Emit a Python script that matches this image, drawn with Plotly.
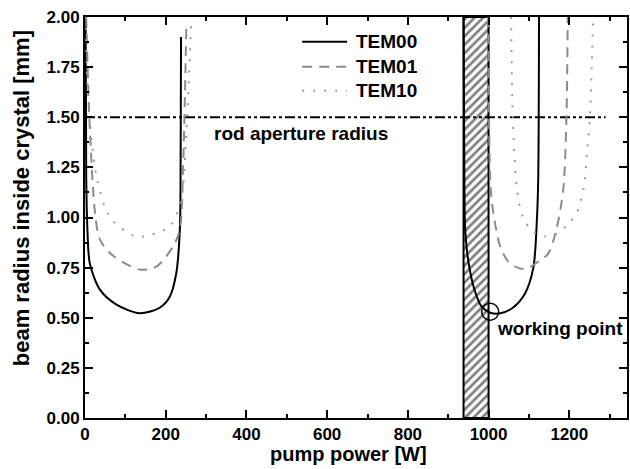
import plotly.graph_objects as go

# ---- data ----
tem00_left_x = [1.5, 3, 6, 12, 37, 78, 136, 185, 210, 226, 235, 237, 238]
tem00_left_y = [2.0, 1.2, 0.94, 0.77, 0.64, 0.565, 0.522, 0.55, 0.605, 0.72, 0.94, 1.3, 1.9]
tem01_left_x = [3, 12, 25, 37, 69, 136, 177, 218, 235, 243, 251]
tem01_left_y = [2.0, 1.44, 1.02, 0.89, 0.81, 0.74, 0.755, 0.855, 0.94, 1.25, 1.95]
tem10_left_x = [1, 8, 29, 62, 119, 144, 210, 238, 251, 263]
tem10_left_y = [2.0, 1.59, 1.2, 1.0, 0.91, 0.905, 0.955, 1.09, 1.42, 1.97]

tem00_right_x = [938, 940, 942, 950, 965, 983, 1004, 1029, 1060, 1090, 1111, 1120, 1123, 1125]
tem00_right_y = [2.0, 1.2, 0.94, 0.78, 0.64, 0.555, 0.525, 0.522, 0.55, 0.62, 0.75, 1.0, 1.19, 2.0]
tem01_right_x = [999, 1001, 1005, 1012, 1029, 1049, 1078, 1099, 1130, 1148, 1168, 1185, 1193, 1196]
tem01_right_y = [2.0, 1.5, 1.15, 1.02, 0.854, 0.78, 0.745, 0.75, 0.79, 0.82, 0.94, 1.14, 1.5, 2.0]
tem10_right_x = [1056, 1060, 1070, 1085, 1110, 1140, 1170, 1198, 1218, 1235, 1245, 1251, 1259]
tem10_right_y = [2.0, 1.5, 1.15, 1.0, 0.93, 0.905, 0.92, 0.97, 1.02, 1.14, 1.35, 1.5, 2.0]

aperture_x = [0, 1290]
aperture_y = [1.5, 1.5]

hatch_x0, hatch_x1 = 938, 1000
hatch_top = 2.0
working_point = (1004, 0.53)

legend_names = ["TEM00", "TEM01", "TEM10"]

FONT = "Liberation Sans, Arial, sans-serif"

fig = go.Figure()

# hatched region
fig.add_trace(go.Bar(
    x=[(hatch_x0 + hatch_x1) / 2], y=[hatch_top], width=[hatch_x1 - hatch_x0], base=0,
    marker=dict(color="white", line=dict(color="black", width=2),
                pattern=dict(shape="/", fgcolor="black", bgcolor="white", size=6, solidity=0.45)),
    showlegend=False, hoverinfo="skip"))

# aperture line
fig.add_trace(go.Scatter(x=aperture_x, y=aperture_y, mode="lines",
                         line=dict(color="black", width=2, dash="10px,3px,3px,3px,3px,3px"),
                         showlegend=False))

styles = {
    "TEM00": dict(color="black", width=2, dash="solid"),
    "TEM01": dict(color="#8c8c8c", width=2, dash="10px,7px"),
    "TEM10": dict(color="#9a9a9a", width=2, dash="2px,9px"),
}
series = [
    ("TEM00", tem00_left_x, tem00_left_y, tem00_right_x, tem00_right_y),
    ("TEM01", tem01_left_x, tem01_left_y, tem01_right_x, tem01_right_y),
    ("TEM10", tem10_left_x, tem10_left_y, tem10_right_x, tem10_right_y),
]
for name, lx, ly, rx, ry in series:
    for xs, ys in ((lx, ly), (rx, ry)):
        fig.add_trace(go.Scatter(x=xs, y=ys, mode="lines", name=name,
                                 line=dict(shape="spline", smoothing=0.8, **styles[name]),
                                 legendgroup=name, showlegend=False))

# working point circle
fig.add_trace(go.Scatter(x=[working_point[0]], y=[working_point[1]], mode="markers",
                         marker=dict(symbol="circle-open", size=17, color="black",
                                     line=dict(width=1.5, color="black")),
                         showlegend=False))

# manual legend (line samples + labels) in paper coordinates
leg_x0, leg_x1, leg_tx = 0.4007, 0.4835, 0.4963
leg_rows = [0.9384, 0.876, 0.8162]
for name, yy in zip(legend_names, leg_rows):
    st = styles[name]
    fig.add_shape(type="line", xref="paper", yref="paper", x0=leg_x0, x1=leg_x1, y0=yy, y1=yy,
                  line=dict(color=st["color"], width=st["width"], dash=st["dash"]))
    fig.add_annotation(xref="paper", yref="paper", x=leg_tx, y=yy, xanchor="left", yanchor="middle",
                       text="<b>%s</b>" % name, showarrow=False,
                       font=dict(family=FONT, size=19, color="black"))

fig.add_annotation(x=535, y=1.42, text="<b>rod aperture radius</b>", showarrow=False,
                   font=dict(family=FONT, size=19, color="black"))
fig.add_annotation(x=1178, y=0.444, text="<b>working point</b>", showarrow=False,
                   font=dict(family=FONT, size=19, color="black"))

# axis titles
fig.add_annotation(xref="paper", yref="paper", x=(349.5 - 85) / 544, y=(418 - 454) / 401,
                   xanchor="center", yanchor="middle", showarrow=False,
                   text="<b>pump power [W]</b>", font=dict(family=FONT, size=20, color="black"))
fig.add_annotation(xref="paper", yref="paper", x=(21 - 85) / 544, y=(418 - 198) / 401,
                   xanchor="center", yanchor="middle", showarrow=False, textangle=-90,
                   text="<b>beam radius inside crystal [mm]</b>",
                   font=dict(family=FONT, size=22, color="black"))

axis_common = dict(showline=True, linecolor="black", linewidth=2, mirror="allticks",
                   ticks="inside", ticklen=8, tickwidth=2, tickcolor="black",
                   showgrid=False, zeroline=False,
                   tickfont=dict(family=FONT, size=17, color="black"))

fig.update_xaxes(range=[0, 1343], dtick=200, tick0=0,
                 minor=dict(dtick=100, ticklen=4, tickwidth=2, ticks="inside", tickcolor="black"),
                 tickprefix="<b>", ticksuffix="</b>",
                 **axis_common)
fig.update_yaxes(range=[0, 2], dtick=0.25, tick0=0, tickformat=".2f",
                 minor=dict(dtick=0.125, ticklen=4, tickwidth=2, ticks="inside", tickcolor="black"),
                 tickprefix="<b>", ticksuffix="</b>",
                 **axis_common)

fig.update_layout(
    width=630, height=469,
    margin=dict(l=85, r=1, t=17, b=51),
    plot_bgcolor="white", paper_bgcolor="white",
    font=dict(family=FONT, color="black"),
    showlegend=False,
)

fig.write_html("out.html")
